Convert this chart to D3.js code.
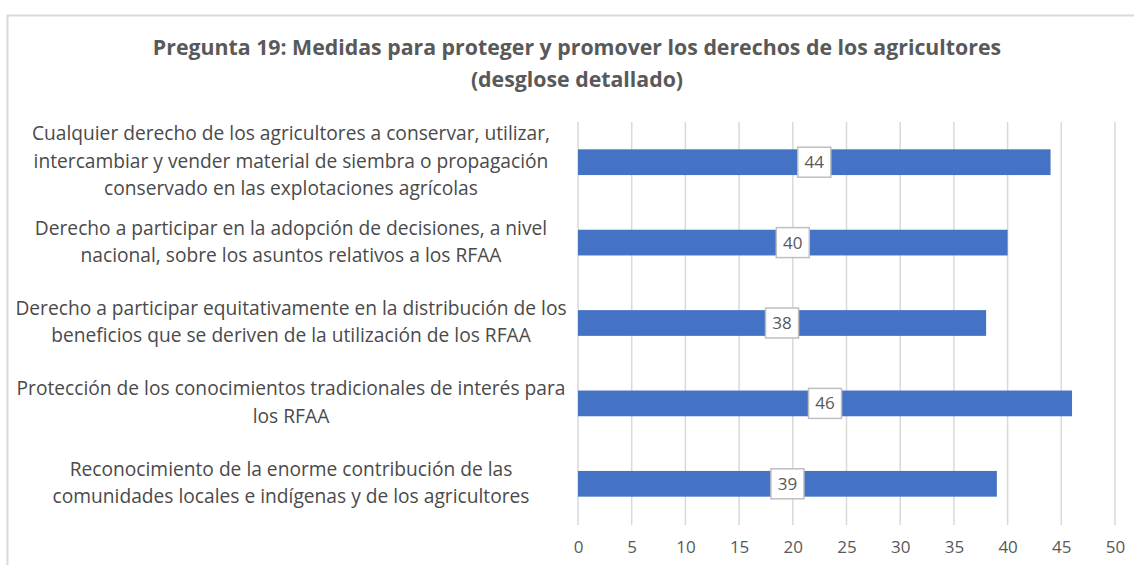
<!DOCTYPE html>
<html><head><meta charset="utf-8">
<script src="https://cdn.jsdelivr.net/npm/d3@7"></script>
<style>body{margin:0;background:#fff}svg{display:block}</style>
</head><body>
<script>
const titleLines = ["Pregunta 19: Medidas para proteger y promover los derechos de los agricultores", "(desglose detallado)"];
const categories = [
  ["Cualquier derecho de los agricultores a conservar, utilizar,", "intercambiar y vender material de siembra o propagación", "conservado en las explotaciones agrícolas"],
  ["Derecho a participar en la adopción de decisiones, a nivel", "nacional, sobre los asuntos relativos a los RFAA"],
  ["Derecho a participar equitativamente en la distribución de los", "beneficios que se deriven de la utilización de los RFAA"],
  ["Protección de los conocimientos tradicionales de interés para", "los RFAA"],
  ["Reconocimiento de la enorme contribución de las", "comunidades locales e indígenas y de los agricultores"]
];
const values = [44, 40, 38, 46, 39];
const ticks = [0, 5, 10, 15, 20, 25, 30, 35, 40, 45, 50];

const W = 1134, H = 565;
const svg = d3.select("body").append("svg").attr("width", W).attr("height", H);
const font = "'Open Sans', 'Noto Sans', sans-serif";

// outer frame
svg.append("path").attr("d", `M7.5,${H} V15.5 H${W}`).attr("fill", "none").attr("stroke", "#d9d9d9").attr("stroke-width", 2);

// title
svg.append("g").selectAll("text").data(titleLines).join("text")
  .attr("x", 577).attr("y", (d, i) => 55 + i * 32)
  .attr("text-anchor", "middle").attr("font-family", font)
  .attr("font-weight", "bold").attr("font-size", 21.3).attr("fill", "#595959").text(d => d);

const x = d3.scaleLinear().domain([0, 50]).range([578, 1115]);
const y = d3.scaleBand().domain(d3.range(categories.length)).range([122, 524]).paddingInner(0.68).paddingOuter(0.34);

// gridlines
svg.append("g").selectAll("line").data(ticks).join("line")
  .attr("x1", d => x(d)).attr("x2", d => x(d)).attr("y1", 122).attr("y2", 525)
  .attr("stroke", "#d9d9d9").attr("stroke-width", 1.5);

// axis
const ax = svg.append("g").attr("transform", "translate(0,525)")
  .call(d3.axisBottom(x).tickValues(ticks).tickSize(0).tickPadding(16));
ax.select(".domain").remove();
ax.selectAll("text").attr("font-family", font).attr("font-size", 17).attr("fill", "#595959");

// bars
svg.append("g").selectAll("rect").data(values).join("rect")
  .attr("x", x(0)).attr("y", (d, i) => y(i)).attr("width", d => x(d) - x(0)).attr("height", y.bandwidth())
  .attr("fill", "#4472C4");

// labels
const lg = svg.append("g").selectAll("g").data(values).join("g")
  .attr("transform", (d, i) => `translate(${x(d / 2)},${y(i) + y.bandwidth() / 2})`);
lg.append("rect").attr("x", -16.5).attr("y", -15).attr("width", 33).attr("height", 30)
  .attr("fill", "#fff").attr("stroke", "#bfbfbf").attr("stroke-width", 1.5);
lg.append("text").attr("text-anchor", "middle").attr("dy", "0.35em")
  .attr("font-family", font).attr("font-size", 17).attr("fill", "#595959").text(d => d);

// category labels
const lineH = 27.5;
svg.append("g").selectAll("text").data(categories).join("text")
  .attr("text-anchor", "middle").attr("font-family", font).attr("font-size", 19.2).attr("fill", "#4a4a4a")
  .each(function (d, i) {
    const cy = y(i) + y.bandwidth() / 2;
    const y0 = cy - (d.length - 1) * lineH / 2 - 1;
    d3.select(this).selectAll("tspan").data(d).join("tspan")
      .attr("x", 291).attr("y", (t, j) => y0 + j * lineH).attr("dy", "0.35em").text(t => t);
  });
</script>
</body></html>
